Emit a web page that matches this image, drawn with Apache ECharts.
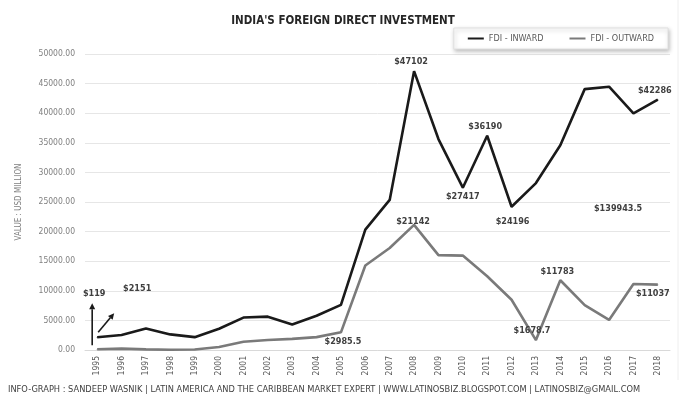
<!DOCTYPE html>
<html><head><meta charset="utf-8">
<script src="https://cdn.jsdelivr.net/npm/echarts@6/dist/echarts.min.js"></script>
<style>html,body{margin:0;padding:0;background:#fff}#c{width:689px;height:402px}</style>
</head><body><div id="c"></div>
<script>
var years = ['1995','1996','1997','1998','1999','2000','2001','2002','2003','2004','2005','2006','2007','2008','2009','2010','2011','2012','2013','2014','2015','2016','2017','2018'];
var fdiInward = [2151,2525,3619,2633,2168,3588,5478,5630,4321,5778,7622,20328,25350,47102,35634,27417,36190,24196,28199,34582,44064,44481,39966,42286];
var fdiOutward = [119,240,113,48,79,514,1397,1678,1876,2175,2985.5,14285,17233,21142,16031,15947,12456,8486,1679,11783,7572,5072,11141,11037];
var yTicks = [0,5000,10000,15000,20000,25000,30000,35000,40000,45000,50000];
var inwardLabels = {'1995':'$2151','2008':'$47102','2010':'$27417','2011':'$36190','2012':'$24196','2018':'$42286'};
var outwardLabels = {'1995':'$119','2005':'$2985.5','2008':'$21142','2013':'$1678.7','2014':'$11783','2016':'$139943.5','2018':'$11037'};

var FONT = '"Liberation Sans Narrow","DejaVu Sans Condensed",sans-serif';
var labelStyle = {fontFamily: FONT, fontSize: 9, fontWeight: 'bold', color: '#404040'};
var inwardPos = {'1995':['top',[40,-40]],'2008':['top',[-3,0]],'2010':['bottom',[0,0]],'2011':['top',[-2,0]],'2012':['bottom',[1,6]],'2018':['top',[-3,0]]};
var outwardPos = {'1995':['top',[-3,-47]],'2005':['bottom',[2,0]],'2008':['top',[-1,6]],'2013':['top',[-4,0]],'2014':['top',[-3,0]],'2016':['top',[9,-102]],'2018':['bottom',[-5,0]]};

function build(vals, labels, pos) {
  return vals.map(function(v, i) {
    var y = years[i];
    if (labels[y]) {
      return {value: v, label: Object.assign({show: true, formatter: labels[y], position: pos[y][0], offset: pos[y][1], distance: 4}, labelStyle)};
    }
    return v;
  });
}

var chart = echarts.init(document.getElementById('c'));
chart.setOption({
  animation: false,
  backgroundColor: '#fff',
  title: [{
    text: "INDIA'S FOREIGN DIRECT INVESTMENT",
    left: 338, top: 10, textAlign: 'center',
    textStyle: {fontFamily: FONT, fontSize: 11.5, fontWeight: 'bold', color: '#262626'}
  }],
  legend: {
    right: 21, top: 28,
    data: ['FDI - INWARD', 'FDI - OUTWARD'],
    icon: 'rect', itemWidth: 16, itemHeight: 2, itemGap: 26,
    padding: [6, 14, 6, 14],
    backgroundColor: '#fff', borderColor: '#e0e0e0', borderWidth: 1,
    shadowColor: 'rgba(0,0,0,0.25)', shadowBlur: 4, shadowOffsetX: 1, shadowOffsetY: 2,
    textStyle: {fontFamily: FONT, fontSize: 9, color: '#595959'}
  },
  grid: {left: 85, right: 19, top: 54, bottom: 52},
  xAxis: {
    type: 'category', data: years, boundaryGap: true,
    axisLine: {lineStyle: {color: '#d9d9d9'}}, axisTick: {show: false},
    axisLabel: {rotate: 90, margin: 6, fontFamily: FONT, fontSize: 8.5, color: '#595959'}
  },
  yAxis: {
    type: 'value', min: yTicks[0], max: yTicks[yTicks.length-1], interval: yTicks[1]-yTicks[0],
    name: 'VALUE : USD MILLION', nameLocation: 'middle', nameGap: 62, nameRotate: 90,
    nameTextStyle: {fontFamily: FONT, fontSize: 8, color: '#7f7f7f'},
    axisLine: {show: false}, axisTick: {show: false},
    axisLabel: {margin: 10, fontFamily: FONT, fontSize: 8.5, color: '#7f7f7f', formatter: function(v){return v.toFixed(2);}},
    splitLine: {lineStyle: {color: '#e6e6e6'}}
  },
  series: [
    {name: 'FDI - INWARD', type: 'line', data: build(fdiInward, inwardLabels, inwardPos),
     showSymbol: true, symbol: 'circle', symbolSize: 1, lineStyle: {color: '#1a1a1a', width: 2.6}, itemStyle: {color: '#1a1a1a'}, z: 3},
    {name: 'FDI - OUTWARD', type: 'line', data: build(fdiOutward, outwardLabels, outwardPos),
     showSymbol: true, symbol: 'circle', symbolSize: 1, lineStyle: {color: '#7a7a7a', width: 2.6}, itemStyle: {color: '#7a7a7a'}, z: 2}
  ]
});

// annotation arrows, anchored on the 1995 points through the chart's scales
var pIn = chart.convertToPixel({gridIndex: 0}, [0, fdiInward[0]]);
var pOut = chart.convertToPixel({gridIndex: 0}, [0, fdiOutward[0]]);
function arrow(x1, y1, x2, y2) {
  var ang = Math.atan2(y2 - y1, x2 - x1), L = 6, W = 3;
  var bx = x2 - L * Math.cos(ang), by = y2 - L * Math.sin(ang);
  var nx = -Math.sin(ang) * W, ny = Math.cos(ang) * W;
  return [
    {type: 'line', shape: {x1: x1, y1: y1, x2: bx, y2: by}, style: {stroke: '#1a1a1a', lineWidth: 1.6}},
    {type: 'polygon', shape: {points: [[x2, y2], [bx + nx, by + ny], [bx - nx, by - ny]]}, style: {fill: '#1a1a1a'}}
  ];
}
var g = [].concat(
  arrow(pOut[0] - 5, pOut[1] - 4, pOut[0] - 5, pOut[1] - 46),
  arrow(pIn[0] + 1, pIn[1] - 5, pIn[0] + 17, pIn[1] - 24)
);
g.push({type: 'text', left: 8, top: 385,
  style: {text: 'INFO-GRAPH : SANDEEP WASNIK | LATIN AMERICA AND THE CARIBBEAN MARKET EXPERT | WWW.LATINOSBIZ.BLOGSPOT.COM | LATINOSBIZ@GMAIL.COM',
  fontFamily: FONT, fontSize: 9.2, fill: '#404040'}});
g.push({type: 'line', shape: {x1: 678, y1: 0, x2: 678, y2: 380}, style: {stroke: '#eeeeee', lineWidth: 1}});
chart.setOption({graphic: g});
</script></body></html>
